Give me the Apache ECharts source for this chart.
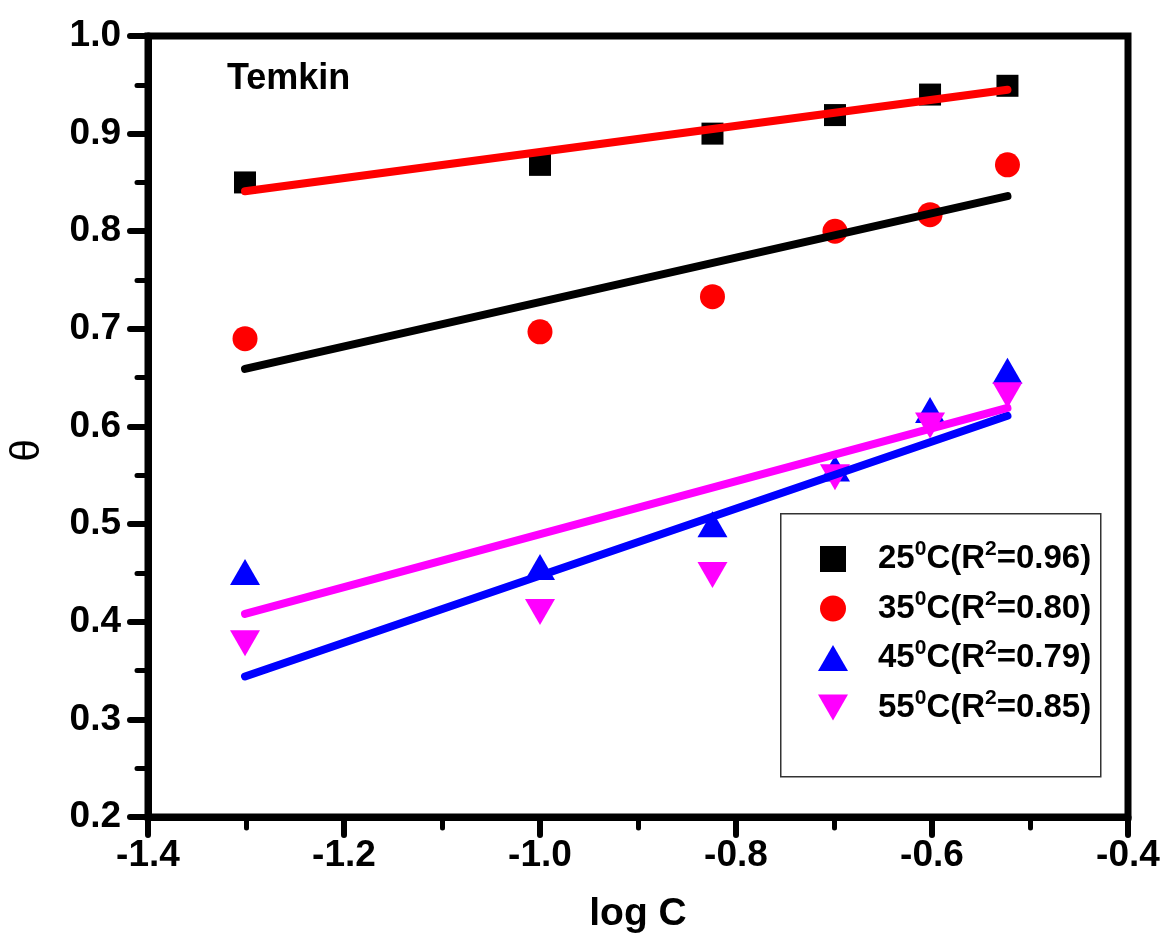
<!DOCTYPE html>
<html>
<head>
<meta charset="utf-8">
<script src="https://cdn.jsdelivr.net/npm/echarts@6/dist/echarts.min.js"></script>
<style>
html,body{margin:0;padding:0;background:#fff;}
#chart{width:1166px;height:947px;}
</style>
</head>
<body>
<div id="chart"></div>
<script>
// ---- data ----
const logC = [-1.301, -1.000, -0.824, -0.699, -0.602, -0.523];
const theta25 = [0.850, 0.868, 0.900, 0.919, 0.940, 0.949];
const theta35 = [0.690, 0.697, 0.733, 0.800, 0.817, 0.868];
const theta45 = [0.451, 0.456, 0.500, 0.557, 0.617, 0.657];
const theta55 = [0.378, 0.410, 0.448, 0.548, 0.601, 0.632];
const fitX = [-1.301, -0.523];
const fit25 = [0.841, 0.945];
const fit35 = [0.659, 0.836];
const fit45 = [0.344, 0.611];
const fit55 = [0.408, 0.619];
const temps = ['25', '35', '45', '55'];
const r2 = ['0.96', '0.80', '0.79', '0.85'];
const xTicks = {min: -1.4, max: -0.4, interval: 0.2};
const yTicks = {min: 0.2, max: 1.0, interval: 0.1};
const panelLabel = 'Temkin';
const xName = 'log C';
const yName = 'θ';

const FONT = "'Liberation Sans', Arial, sans-serif";

function pairs(xs, ys) { return xs.map((x, i) => [x, ys[i]]); }

const square = 'path://M0,0L10,0L10,10L0,10Z';
const upTri = 'path://M0,26L15,0L30,26Z';
const downTri = 'path://M0,0L30,0L15,26Z';

const scatterDefs = [
  {vals: theta25, color: '#000000', symbol: square, size: 22},
  {vals: theta35, color: '#ff0000', symbol: 'circle', size: 25},
  {vals: theta45, color: '#0000ff', symbol: upTri, size: [30, 26]},
  {vals: theta55, color: '#ff00ff', symbol: downTri, size: [30, 26]}
];
const fitDefs = [
  {vals: fit25, color: '#ff0000'},
  {vals: fit35, color: '#000000'},
  {vals: fit45, color: '#0000ff'},
  {vals: fit55, color: '#ff00ff'}
];

const seriesNames = temps.map(t => t + '°C');

const series = [];
scatterDefs.forEach((d, i) => {
  series.push({
    type: 'scatter', name: seriesNames[i],
    data: pairs(logC, d.vals),
    symbol: d.symbol, symbolSize: d.size, symbolKeepAspect: false,
    itemStyle: {color: d.color, opacity: 1},
    z: 2
  });
});
fitDefs.forEach((d, i) => {
  series.push({
    type: 'line', name: 'fit' + temps[i],
    data: pairs(fitX, d.vals),
    showSymbol: false, symbol: 'none',
    lineStyle: {color: d.color, width: 8, cap: 'round'},
    z: 3, silent: true
  });
});

const chart = echarts.init(document.getElementById('chart'), null, {renderer: 'canvas'});
chart.setOption({
  animation: false,
  backgroundColor: '#fff',
  grid: {left: 148, right: 38, top: 36, bottom: 130, show: true, borderWidth: 7, borderColor: '#000', backgroundColor: 'transparent'},
  title: {
    text: panelLabel, left: 227, top: 61, padding: 0,
    textStyle: {fontFamily: FONT, fontWeight: 'bold', fontSize: 36, color: '#000'}
  },
  xAxis: {
    type: 'value', min: xTicks.min, max: xTicks.max, interval: xTicks.interval,
    name: xName, nameLocation: 'middle', nameGap: 78,
    nameTextStyle: {fontFamily: FONT, fontWeight: 'bold', fontSize: 39, color: '#000'},
    axisLine: {show: true, onZero: false, lineStyle: {color: '#000', width: 7, cap: 'round'}},
    axisTick: {show: true, inside: false, length: 18, lineStyle: {color: '#000', width: 6, cap: 'round'}},
    minorTick: {show: true, splitNumber: 2, length: 11, lineStyle: {color: '#000', width: 5, cap: 'round'}},
    splitLine: {show: false},
    axisLabel: {margin: 20, fontFamily: FONT, fontWeight: 'bold', fontSize: 37, color: '#000',
      formatter: v => v.toFixed(1)}
  },
  yAxis: {
    type: 'value', min: yTicks.min, max: yTicks.max, interval: yTicks.interval,
    name: yName, nameLocation: 'middle', nameGap: 100, nameRotate: 90,
    nameTextStyle: {fontFamily: FONT, fontSize: 40, color: '#000', padding: [0, 48, 0, 0]},
    axisLine: {show: true, onZero: false, lineStyle: {color: '#000', width: 7, cap: 'round'}},
    axisTick: {show: true, inside: false, length: 18, lineStyle: {color: '#000', width: 6, cap: 'round'}},
    minorTick: {show: true, splitNumber: 2, length: 11, lineStyle: {color: '#000', width: 5, cap: 'round'}},
    splitLine: {show: false},
    axisLabel: {margin: 27, fontFamily: FONT, fontWeight: 'bold', fontSize: 37, color: '#000',
      formatter: v => v.toFixed(1)}
  },
  legend: {
    data: seriesNames,
    orient: 'vertical', left: 818, top: 539,
    itemWidth: 60, itemHeight: 26, itemGap: 13,
    padding: 0,
    selectedMode: false,
    symbolKeepAspect: true,
    formatter: name => {
      const i = seriesNames.indexOf(name);
      return '{a|' + temps[i] + '}{s|0}{a|C(R}{s|2}{a|=' + r2[i] + ')}';
    },
    textStyle: {
      padding: [0, 0, 0, 10],
      fontFamily: FONT, fontWeight: 'bold', fontSize: 33, color: '#000',
      rich: {
        a: {fontFamily: FONT, fontWeight: 'bold', fontSize: 33, color: '#000', lineHeight: 40},
        s: {fontFamily: FONT, fontWeight: 'bold', fontSize: 21, color: '#000', lineHeight: 22, verticalAlign: 'top'}
      }
    }
  },
  graphic: [{
    type: 'rect', left: 780, top: 513, z: 0, silent: true,
    shape: {width: 320, height: 263},
    style: {fill: '#fff', stroke: '#333', lineWidth: 1.5}
  }],
  series: series
});
</script>
</body>
</html>
